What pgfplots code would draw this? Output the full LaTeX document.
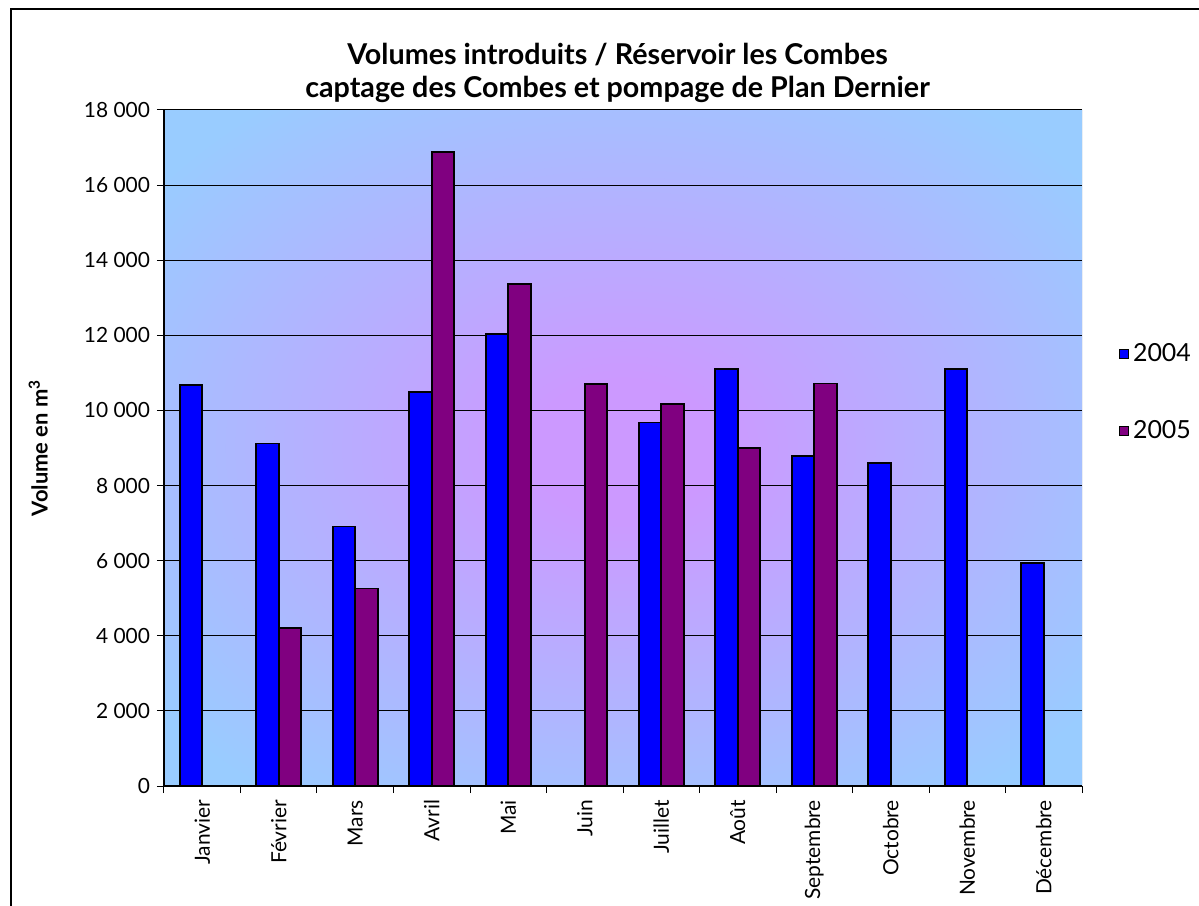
\documentclass[border=0pt]{standalone}
\usepackage{fontspec}
\setmainfont{Lato}
\usepackage{pgfplots}
\usepackage{pgfplotstable}
\pgfplotsset{compat=1.18}

\definecolor{innerc}{RGB}{204,153,255}
\definecolor{outerc}{RGB}{153,204,255}
\definecolor{barbleu}{RGB}{0,0,255}
\definecolor{barviolet}{RGB}{128,0,128}
\pgfdeclareradialshading{fondplot}{\pgfpoint{0bp}{0bp}}{color(0bp)=(innerc); color(5bp)=(innerc); color(32bp)=(outerc); color(80bp)=(outerc)}
\pgfplotsset{carre/.style={legend image code/.code={\draw[##1, line width=0.6bp] (0bp,-2.3bp) rectangle (4.6bp,2.3bp);}}}

% volumes en m3, mois numerotes de 0 (janvier) a 11 (decembre)
\pgfplotstableread{
mois vol
0  10670
1  9120
2  6910
3  10500
4  12040
6  9680
7  11110
8  8780
9  8590
10 11110
11 5930
}\anneeA

\pgfplotstableread{
mois vol
1  4200
2  5260
3  16880
4  13360
5  10700
6  10170
7  8990
8  10720
}\anneeB

\begin{document}
\begin{tikzpicture}
\useasboundingbox (-82bp,-60bp) rectangle (517.5bp,393bp);
\draw[line width=0.8bp] (-76.5bp,-70bp) -- (-76.5bp,388.5bp) -- (530bp,388.5bp);
% fond degrade elliptique de la zone de trace
\begin{scope}[transform canvas={yscale=0.7364}]
  \shade[shading=fondplot] (0bp,0bp) rectangle (459bp,459bp);
\end{scope}
\begin{axis}[
  at={(0,0)}, anchor=south west,
  width=459bp, height=338bp, scale only axis,
  ybar=0pt, bar width=11.3bp,
  xmin=-0.5, xmax=11.5, ymin=0, ymax=18000,
  axis x line*=bottom, axis y line*=left,
  axis line style={black, line width=0.6bp},
  xtick={0,...,11},
  xticklabels={Janvier,Février,Mars,Avril,Mai,Juin,Juillet,Août,Septembre,Octobre,Novembre,Décembre},
  major x tick style={draw=none},
  minor xtick={-0.5,0.5,...,11.5},
  ytick={0,2000,...,18000},
  tick align=outside, major tick length=3.5bp, minor tick length=3.5bp,
  tick style={black, line width=0.5bp},
  ymajorgrids, grid style={black, line width=0.5bp},
  scaled y ticks=false,
  /pgf/number format/assume math mode=true,
  /pgf/number format/1000 sep={\ },
  tick label style={font=\fontsize{10.5}{12}\selectfont},
  xticklabel style={rotate=90, anchor=east},
  title={Volumes introduits / Réservoir les Combes\\captage des Combes et pompage de Plan Dernier},
  title style={align=center, font=\bfseries\fontsize{14.4}{16.5}\selectfont, at={(axis description cs:0.494,1)}, anchor=south, yshift=-6bp},
  ylabel={Volume en m\textsuperscript{3}},
  every axis y label/.style={at={(axis description cs:-0.137,0.5)}, rotate=90, anchor=center, font=\bfseries\fontsize{11}{13}\selectfont},
  legend style={draw=none, fill=none, at={(axis description cs:1.033,0.582)}, anchor=west,
    font=\fontsize{12.5}{14}\selectfont, row sep=24bp},
]
\addplot[fill=barbleu, draw=black, line width=0.9bp, carre]
  table[x=mois, y=vol] {\anneeA};
\addplot[fill=barviolet, draw=black, line width=0.9bp, carre]
  table[x=mois, y=vol] {\anneeB};
\legend{2004,2005}
\draw[gray!70, line width=0.5bp] (rel axis cs:1,0) -- (rel axis cs:1,1);
\end{axis}
\end{tikzpicture}
\end{document}
